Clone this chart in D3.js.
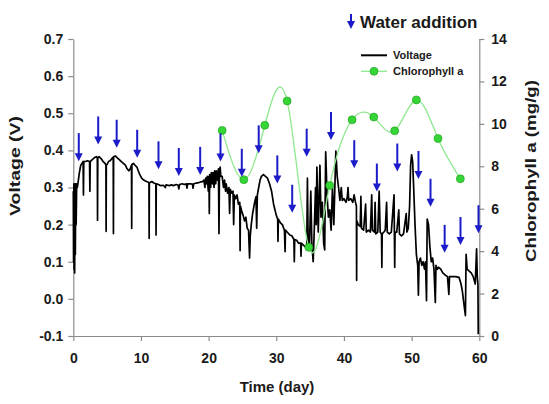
<!DOCTYPE html>
<html><head><meta charset="utf-8">
<script src="https://cdn.jsdelivr.net/npm/d3@7"></script>
<style>body{margin:0;background:#fff}svg text{font-family:Arial,"Liberation Sans",sans-serif;font-weight:bold;fill:#1a1a1a}</style>
</head><body>
<svg id="chart" width="549" height="404"></svg>
<script>
// ---------- data ----------
const voltage = [
[0.00,0.29],[0.04,0.10],[0.08,0.31],[0.12,0.08],[0.16,0.30],[0.20,0.07],[0.25,0.31],[0.30,0.12],[0.36,0.31],[0.42,0.20],[0.5,0.31],[0.6,0.30],[0.75,0.32],
[0.9,0.34],[1.1,0.36],[1.3,0.365],[1.45,0.37],[1.5,0.28],[1.55,0.37],[1.8,0.37],[2.1,0.372],[2.4,0.37],[2.45,0.29],[2.5,0.37],[2.8,0.375],[3.1,0.38],[3.4,0.383],[3.55,0.38],[3.58,0.212],[3.62,0.38],
[3.8,0.383],[4.1,0.378],[4.4,0.37],[4.7,0.365],[4.82,0.36],[4.85,0.182],[4.88,0.36],[5.0,0.362],[5.2,0.37],[5.45,0.372],[5.8,0.38],[5.9,0.382],[5.93,0.176],[5.96,0.383],[6.2,0.385],[6.5,0.38],[6.8,0.375],
[7.1,0.37],[7.4,0.365],[7.7,0.36],[7.9,0.352],[8.2,0.345],[8.4,0.35],[8.6,0.36],[8.63,0.19],[8.66,0.362],[8.9,0.365],[9.1,0.36],[9.4,0.355],[9.6,0.345],[9.85,0.334],[10.1,0.325],[10.4,0.32],
[10.8,0.316],[11.1,0.314],[11.18,0.312],[11.21,0.163],[11.24,0.312],[11.6,0.316],[11.9,0.312],[12.2,0.31],[12.23,0.172],[12.26,0.31],[12.6,0.308],[12.9,0.305],
[13.3,0.306],[13.6,0.30],[13.7,0.307],[14.2,0.305],[14.5,0.307],[14.8,0.305],[15.2,0.308],[15.5,0.306],[15.6,0.296],[15.7,0.308],[16.1,0.31],[16.4,0.308],[16.7,0.31],[16.8,0.298],[16.9,0.31],[17.3,0.31],[17.6,0.309],[17.7,0.298],[17.8,0.31],[18.2,0.312],[18.5,0.313],[18.8,0.315],[19.1,0.316],
[19.3,0.32],[19.45,0.30],[19.55,0.325],[19.7,0.31],[19.8,0.33],[19.95,0.29],[20.05,0.33],[20.1,0.23],[20.15,0.335],[20.3,0.30],[20.4,0.34],[20.55,0.31],[20.65,0.34],[20.8,0.30],[20.9,0.345],[21.05,0.31],[21.15,0.345],[21.3,0.32],[21.45,0.35],[21.53,0.176],[21.6,0.34],[21.7,0.355],[21.8,0.33],
[22.0,0.33],[22.2,0.30],[22.35,0.32],[22.5,0.29],[22.6,0.31],[22.8,0.285],[23.0,0.30],[23.1,0.23],[23.2,0.295],[23.4,0.285],[23.6,0.29],[23.7,0.20],[23.8,0.28],[24.0,0.27],[24.2,0.28],[24.4,0.255],[24.6,0.26],[24.65,0.13],[24.7,0.25],[24.9,0.235],[25.1,0.225],[25.3,0.21],[25.5,0.22],[25.7,0.19],[25.9,0.185],[26.05,0.11],[26.15,0.17],[26.3,0.2],[26.5,0.23],[26.8,0.26],[27.0,0.275],[27.1,0.19],[27.2,0.28],[27.4,0.3],
[27.6,0.32],[27.8,0.33],[28.1,0.335],[28.4,0.33],[28.7,0.325],[29.0,0.31],[29.3,0.29],[29.6,0.255],[29.8,0.24],[30.0,0.225],[30.2,0.215],[30.25,0.155],[30.3,0.215],[30.6,0.205],[30.9,0.2],[31.2,0.185],[31.3,0.127],[31.35,0.185],[31.6,0.18],[32.0,0.172],[32.3,0.17],[32.6,0.16],[32.66,0.10],[32.72,0.16],[33.0,0.158],[33.3,0.15],[33.6,0.15],[33.65,0.115],[33.7,0.15],[34.0,0.145],[34.3,0.14],[34.5,0.135],
[34.6,0.325],[34.7,0.16],[34.9,0.14],[35.1,0.29],[35.25,0.15],[35.45,0.10],[35.6,0.18],[35.8,0.30],[35.9,0.2],[36.0,0.355],[36.2,0.18],[36.45,0.36],[36.6,0.22],[36.8,0.26],[37.0,0.15],[37.15,0.132],[37.3,0.396],[37.5,0.28],[37.7,0.22],[37.9,0.24],[38.1,0.185],[38.3,0.30],[38.5,0.2],[38.8,0.398],[39.0,0.33],[39.2,0.3],[39.4,0.265],
[39.6,0.30],[39.75,0.265],[40.0,0.27],[40.3,0.26],[40.5,0.275],[40.6,0.3],[40.7,0.265],[41.0,0.27],[41.3,0.26],[41.5,0.28],[41.7,0.26],[41.84,0.25],[41.87,0.05],[41.9,0.21],
[42.1,0.2],[42.4,0.195],[42.5,0.276],[42.6,0.19],[42.9,0.185],[43.2,0.255],[43.3,0.18],[43.6,0.185],[43.9,0.18],[44.1,0.28],[44.2,0.185],[44.5,0.18],[44.6,0.26],[44.7,0.175],[45.0,0.18],[45.2,0.29],[45.35,0.18],[45.55,0.175],[45.6,0.085],[45.65,0.175],[45.9,0.18],[46.1,0.185],[46.3,0.26],[46.4,0.18],[46.7,0.175],[47.0,0.18],[47.4,0.28],[47.45,0.18],[47.5,0.085],[47.55,0.18],[47.8,0.18],[48.1,0.24],[48.2,0.175],[48.5,0.17],[48.8,0.175],[49.2,0.23],[49.3,0.18],[49.5,0.19],[49.7,0.25],[49.85,0.36],[50.0,0.388],[50.15,0.37],
[50.3,0.30],[50.5,0.2],[50.7,0.12],[50.9,0.09],[51.0,0.01],[51.1,0.10],[51.3,0.11],[51.5,0.09],[51.7,0.1],[51.9,0.08],[52.05,0.1],[52.2,-0.005],[52.3,0.215],[52.5,0.2],[52.7,0.14],[52.9,0.1],[53.1,0.11],[53.3,0.08],[53.5,-0.01],[53.6,0.09],[53.8,0.08],[54.0,0.085],[54.3,0.08],[54.6,0.07],[54.9,0.065],[55.3,0.06],[55.5,0.012],[55.6,0.06],[56.0,0.06],[56.5,0.06],[57.0,0.058],[57.3,0.04],[57.5,0.02],[57.7,-0.01],[57.95,-0.045],[58.05,0.12],[58.2,0.08],[58.5,0.075],[58.8,0.07],[59.1,0.06],[59.4,0.04],[59.6,0.135],[59.7,0.06],[59.8,0.04],[59.85,-0.095]
];
const chlDays   = [22.0, 25.2, 28.3, 31.6, 34.8, 37.9, 41.2, 44.4, 47.5, 50.7, 53.9, 57.2];
const chlValues = [9.69, 7.37, 9.93, 11.08, 4.18, 7.10, 10.19, 10.32, 9.67, 11.13, 9.31, 7.41];
const waterDays = [0.81, 3.68, 6.41, 9.44, 12.59, 15.59, 18.75, 21.75, 24.90, 27.40, 30.15, 32.35, 34.49, 38.08, 41.52, 44.86, 47.88, 51.01, 52.79, 54.88, 57.22, 59.88];
const waterTipV = [0.371, 0.416, 0.407, 0.380, 0.349, 0.331, 0.334, 0.370, 0.329, 0.392, 0.311, 0.232, 0.383, 0.428, 0.352, 0.289, 0.343, 0.323, 0.248, 0.124, 0.145, 0.177];
const xTicks = [0, 10, 20, 30, 40, 50, 60];
const yLeftTicks = [-0.1, 0.0, 0.1, 0.2, 0.3, 0.4, 0.5, 0.6, 0.7];
const yRightTicks = [0, 2, 4, 6, 8, 10, 12, 14];

// ---------- chart ----------
const svg = d3.select('#chart');
const L = 73.3, R = 479.3, T = 39, B = 336;
const x = d3.scaleLinear().domain([0, 60]).range([L, R]);
const yL = d3.scaleLinear().domain([-0.1, 0.7]).range([B, T]);
const yR = d3.scaleLinear().domain([0, 14]).range([B, T]);
const axisColor = '#8c8c8c', blue = '#1b1bc9';

function styleAxis(g) {
  g.selectAll('path.domain').attr('stroke', axisColor).attr('stroke-width', 1.2);
  g.selectAll('.tick line').attr('stroke', axisColor).attr('stroke-width', 1.2);
  g.selectAll('.tick text').attr('font-size', 14).attr('font-family', null).attr('fill', '#1a1a1a');
}
svg.append('g').attr('transform', `translate(0,${B})`)
  .call(d3.axisBottom(x).tickValues(xTicks).tickSize(5).tickSizeOuter(0).tickPadding(12).tickFormat(d3.format('d')))
  .call(styleAxis);
svg.append('g').attr('transform', `translate(${L},0)`)
  .call(d3.axisLeft(yL).tickValues(yLeftTicks).tickSize(5).tickSizeOuter(0).tickPadding(5).tickFormat(d => d.toFixed(1)))
  .call(styleAxis);
svg.append('g').attr('transform', `translate(${R},0)`)
  .call(d3.axisRight(yR).tickValues(yRightTicks).tickSize(5).tickSizeOuter(0).tickPadding(7).tickFormat(d3.format('d')))
  .call(styleAxis);

// titles
svg.append('text').attr('x', 277).attr('y', 392).attr('text-anchor', 'middle').attr('font-size', 15).text('Time (day)');
svg.append('text').attr('transform', 'translate(20,166) rotate(-90)').attr('text-anchor', 'middle')
  .attr('font-size', 15).attr('textLength', 100).attr('lengthAdjust', 'spacingAndGlyphs').text('Voltage (V)');
svg.append('text').attr('transform', 'translate(536,171) rotate(-90)').attr('text-anchor', 'middle')
  .attr('font-size', 15).attr('textLength', 182).attr('lengthAdjust', 'spacingAndGlyphs').text('Chlorophyll a (mg/g)');

// voltage line
svg.append('path').datum(voltage)
  .attr('fill', 'none').attr('stroke', '#000').attr('stroke-width', 1.7).attr('stroke-linejoin', 'round')
  .attr('d', d3.line().x(d => x(d[0])).y(d => yL(d[1])));

// chlorophyll curve
const chl = chlDays.map((d, i) => [d, chlValues[i]]);
svg.append('path').datum(chl)
  .attr('fill', 'none').attr('stroke', '#8fe88f').attr('stroke-width', 1.3)
  .attr('d', d3.line().curve(d3.curveNatural).x(d => x(d[0])).y(d => yR(d[1])));
svg.selectAll('circle.chl').data(chl).join('circle').attr('class', 'chl')
  .attr('cx', d => x(d[0])).attr('cy', d => yR(d[1])).attr('r', 4)
  .attr('fill', '#35d535').attr('stroke', '#1f9a1f').attr('stroke-width', 0.6);

// water addition arrows
function arrow(g, xp, yTip, len) {
  g.append('line').attr('x1', xp).attr('x2', xp).attr('y1', yTip - len).attr('y2', yTip - 6)
    .attr('stroke', blue).attr('stroke-width', 2);
  g.append('path').attr('d', `M${xp - 4},${yTip - 8}L${xp + 4},${yTip - 8}L${xp},${yTip}Z`).attr('fill', blue);
}
const ag = svg.append('g');
waterDays.forEach((d, i) => arrow(ag, x(d), yL(waterTipV[i]), 28));

// top legend: water addition
arrow(svg.append('g'), 351, 29, 15);
svg.append('text').attr('x', 360).attr('y', 28).attr('font-size', 17).text('Water addition');

// series legend
svg.append('line').attr('x1', 361).attr('x2', 387).attr('y1', 55.3).attr('y2', 55.3).attr('stroke', '#000').attr('stroke-width', 2);
svg.append('text').attr('x', 393).attr('y', 59).attr('font-size', 11).text('Voltage');
svg.append('line').attr('x1', 361).attr('x2', 387).attr('y1', 71.3).attr('y2', 71.3).attr('stroke', '#8fe88f').attr('stroke-width', 1.3);
svg.append('circle').attr('cx', 374).attr('cy', 71.3).attr('r', 4).attr('fill', '#35d535').attr('stroke', '#1f9a1f').attr('stroke-width', 0.6);
svg.append('text').attr('x', 393).attr('y', 75).attr('font-size', 11).text('Chlorophyll a');
</script>
</body></html>
